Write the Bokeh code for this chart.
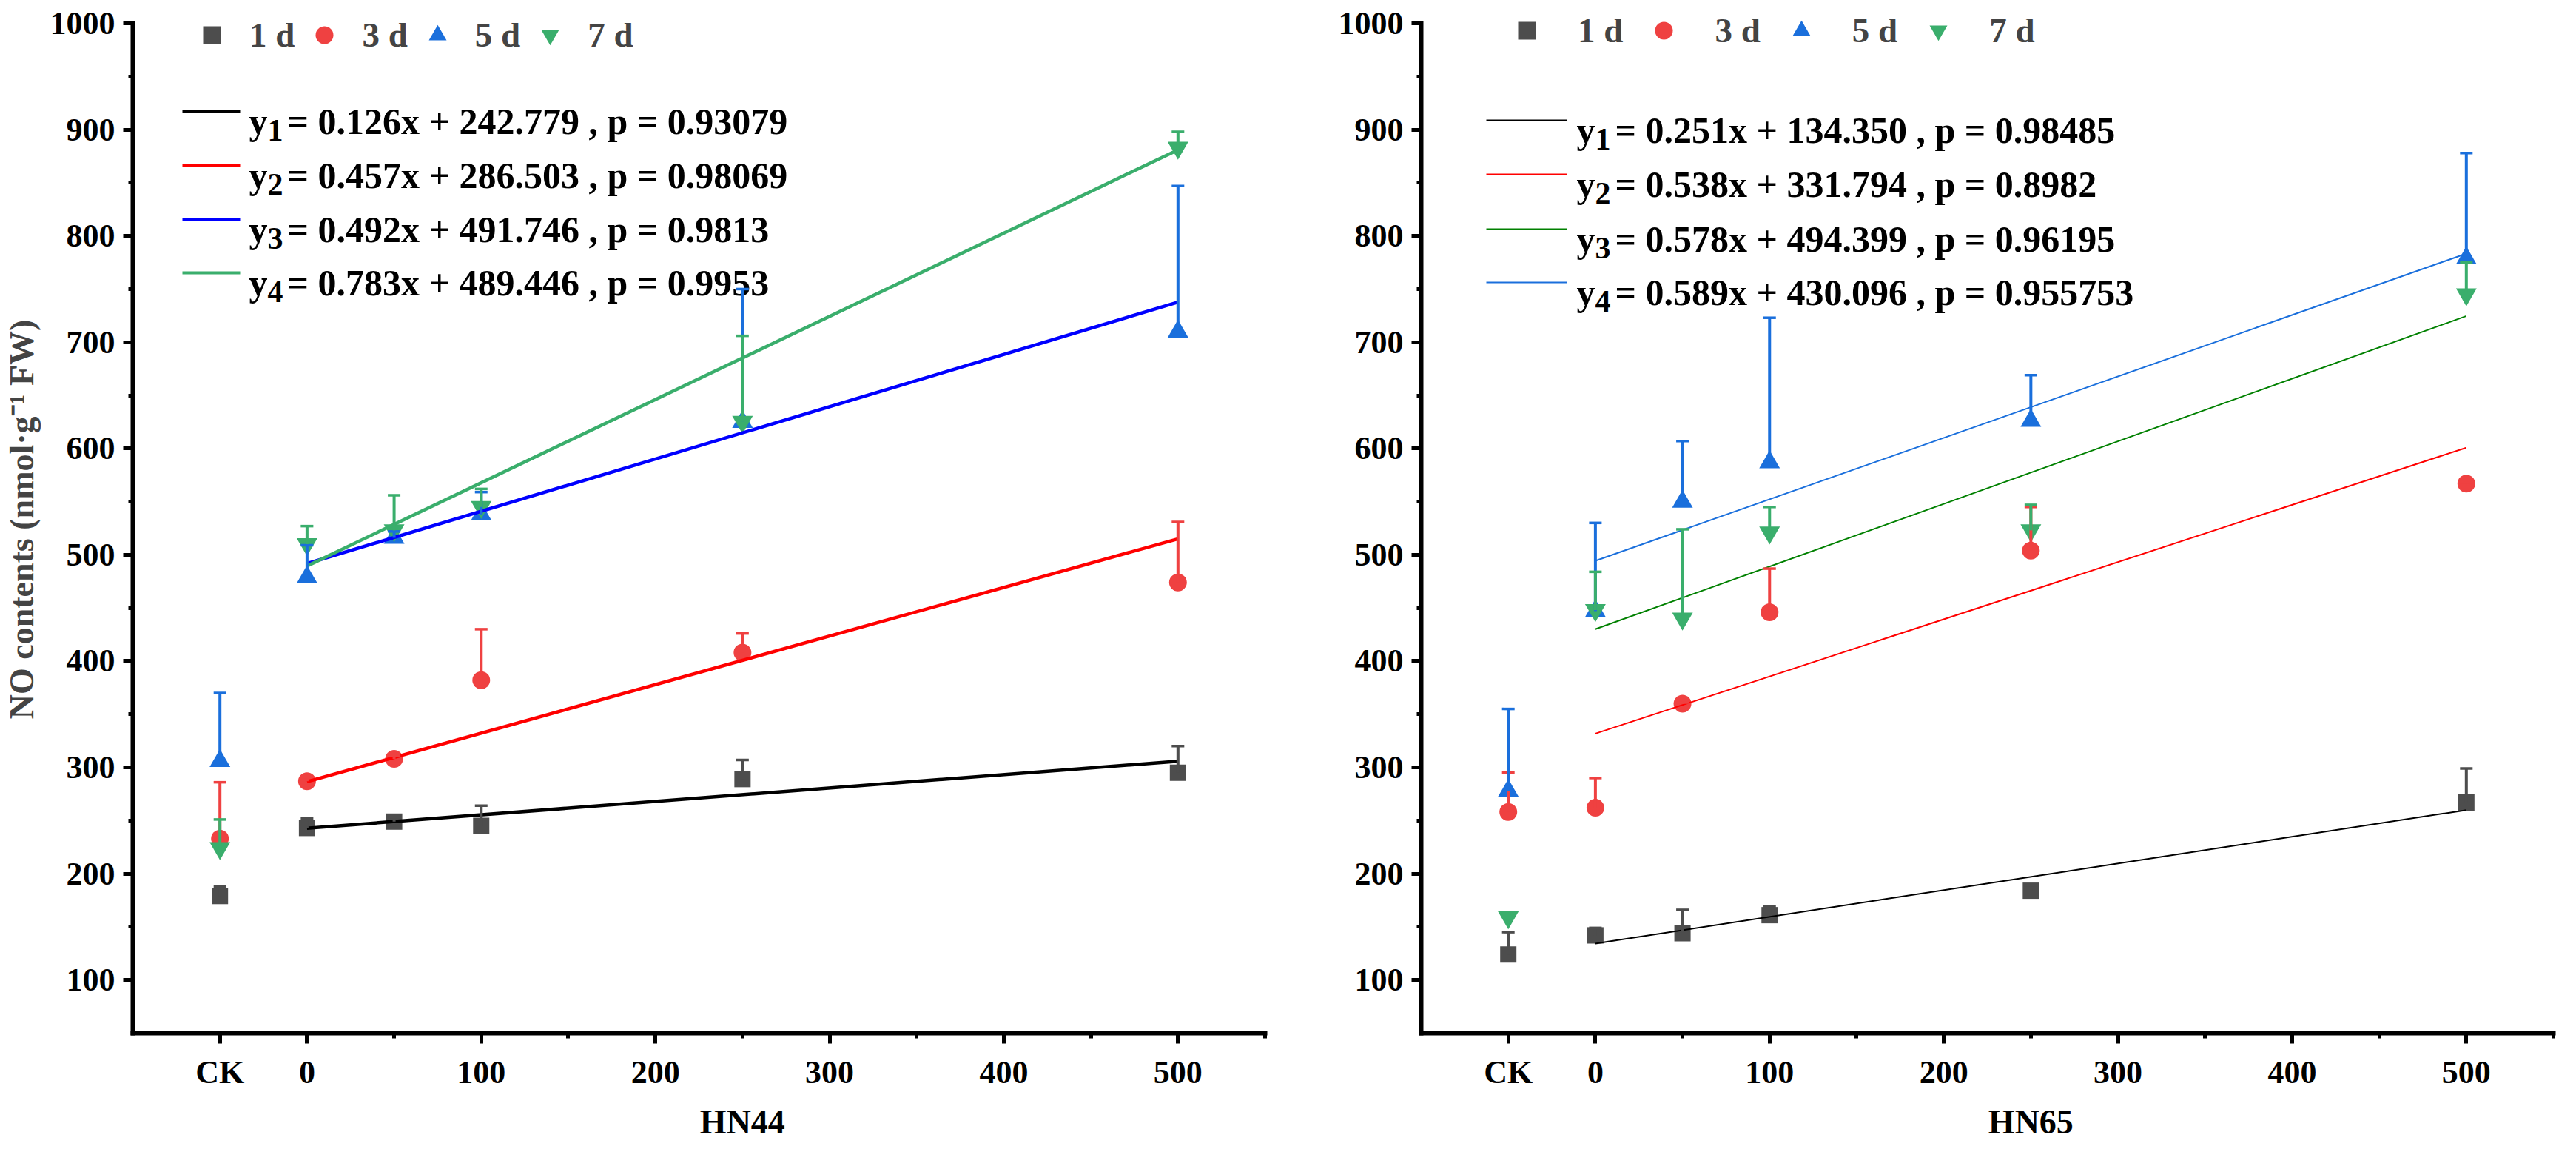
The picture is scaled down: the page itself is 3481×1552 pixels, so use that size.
from bokeh.embed import file_html
from bokeh.resources import INLINE
from bokeh.layouts import row
from bokeh.core.properties import value
from bokeh.models import (ColumnDataSource, FixedTicker, Legend, LegendItem,
                          Range1d, TeeHead, Title, Whisker)
from bokeh.plotting import figure

# x positions: CK control drawn at -50, then the HN doses
x_pos = [-50, 0, 50, 100, 250, 500]
ck_pos = -50
fit_x = [0, 500]
day_labels = ["1 d", "3 d", "5 d", "7 d"]

# HN44 panel (NO contents, nmol/g FW) and upper error bars
hn44_1d = [179, 243, 249, 245, 289, 295]
hn44_1d_err = [9, 9, 4, 19, 18, 25]
hn44_3d = [233, 287, 308, 382, 408, 474]
hn44_3d_err = [53, 4, 3, 48, 18, 57]
hn44_5d = [306, 479, 516, 538, 625, 710]
hn44_5d_err = [64, 30, 6, 21, 125, 137]
hn44_7d = [224, 510, 523, 545, 625, 883]
hn44_7d_err = [27, 17, 33, 17, 81, 15]
hn44_slopes = [0.126, 0.457, 0.492, 0.783]
hn44_intercepts = [242.779, 286.503, 491.746, 489.446]
hn44_p = ["0.93079", "0.98069", "0.9813", "0.9953"]

# HN65 panel
hn65_1d = [124, 142, 144, 161, 184, 267]
hn65_1d_err = [21, 7, 22, 8, 3, 32]
hn65_3d = [258, 262, 360, 446, 504, 567]
hn65_3d_err = [37, 28, 1, 41, 41, 1]
hn65_5d = [278, 447, 550, 587, 626, 779]
hn65_5d_err = [77, 83, 57, 136, 43, 99]
hn65_7d = [159, 448, 440, 521, 523, 745]
hn65_7d_err = [0, 36, 84, 24, 24, 30]
hn65_slopes = [0.251, 0.538, 0.578, 0.589]
hn65_intercepts = [134.350, 331.794, 494.399, 430.096]
hn65_p = ["0.98485", "0.8982", "0.96195", "0.955753"]

FONT = "Liberation Serif"
MARKERS = ["square", "circle", "triangle", "inverted_triangle"]
MARKER_SIZES = [22, 24, 28, 28]
MARKER_COLORS = ["#4d4d4d", "#ef4141", "#1a6fdc", "#3aae6c"]
X0, X1 = -100, 550
Y0, Y1 = 50, 1000
FRAME_W, AXIS_H = 1530, 1364     # pixel size of the drawn axes box
PAD = 24                         # extra frame room above the y axis for the legend
FRAME_H = AXIS_H + PAD
Y_TOP = Y1 + PAD * (Y1 - Y0) / AXIS_H


def make_panel(series, errors, slopes, intercepts, pvals, line_colors, legend_colors,
               line_w, legend_line_w, xlabel, ylabel, borders, leg_loc, leg_standoff,
               leg_spacing, eq_geom):
    bl, br = borders
    p = figure(frame_width=FRAME_W, frame_height=FRAME_H,
               x_range=Range1d(X0, X1), y_range=Range1d(Y0, Y_TOP),
               output_backend="svg", toolbar_location=None,
               min_border_left=bl, min_border_right=br,
               min_border_top=31 - PAD, min_border_bottom=140)
    p.outline_line_color = None
    p.grid.visible = False
    p.background_fill_color = "white"

    p.xaxis.ticker = FixedTicker(ticks=[ck_pos, 0, 100, 200, 300, 400, 500],
                                 minor_ticks=[50, 150, 250, 350, 450, 550])
    p.xaxis.major_label_overrides = {ck_pos: "CK"}
    p.yaxis.ticker = FixedTicker(ticks=list(range(100, 1001, 100)),
                                 minor_ticks=list(range(150, 1000, 100)))
    p.yaxis.bounds = (Y0, Y1)
    for ax in (p.xaxis, p.yaxis):
        ax.axis_line_width = 6
        ax.axis_line_cap = "square"
        ax.major_tick_line_width = 5
        ax.minor_tick_line_width = 5
        ax.major_tick_in = 0
        ax.minor_tick_in = 0
        ax.major_label_text_font = FONT
        ax.major_label_text_font_style = "bold"
        ax.major_label_text_font_size = "44px"
        ax.major_label_text_color = "black"
    p.xaxis.major_tick_out = 14
    p.xaxis.minor_tick_out = 7
    p.xaxis.major_label_standoff = 14
    p.yaxis.major_tick_out = 13
    p.yaxis.minor_tick_out = 6
    p.yaxis.major_label_standoff = 11
    if ylabel:
        p.yaxis.axis_label = ylabel
        p.yaxis.axis_label_text_font = FONT
        p.yaxis.axis_label_text_font_style = "bold"
        p.yaxis.axis_label_text_font_size = "46px"
        p.yaxis.axis_label_standoff = 10

    # x axis title centred under x = 250, as in the original
    label_w = 115
    offset = (250 - X0) / (X1 - X0) * FRAME_W - label_w / 2
    p.add_layout(Title(text=xlabel, align="left", offset=offset, vertical_align="top",
                       standoff=28, text_font=FONT, text_font_style="bold",
                       text_font_size="46px", text_color="black"), "below")

    marker_renderers = []
    for vals, mk, sz, col in zip(series, MARKERS, MARKER_SIZES, MARKER_COLORS):
        r = p.scatter(x_pos, vals, marker=mk, size=sz, fill_color=col, line_color=None)
        marker_renderers.append(r)

    for vals, errs, col in zip(series, errors, MARKER_COLORS):
        keep = [i for i, e in enumerate(errs) if e > 0]
        src = ColumnDataSource(data=dict(
            x=[x_pos[i] for i in keep],
            lower=[vals[i] for i in keep],
            upper=[vals[i] + errs[i] for i in keep]))
        w = Whisker(base="x", lower="lower", upper="upper", source=src,
                    dimension="height", line_color=col, line_width=4,
                    lower_head=None,
                    upper_head=TeeHead(size=17, line_color=col, line_width=3.5))
        w.level = "glyph"
        p.add_layout(w)

    for m, b, col in zip(slopes, intercepts, line_colors):
        p.line(fit_x, [m * x + b for x in fit_x], line_color=col, line_width=line_w)

    legend = Legend(items=[LegendItem(label=lab, renderers=[r])
                           for lab, r in zip(day_labels, marker_renderers)],
                    orientation="horizontal", location=leg_loc,
                    glyph_width=60, glyph_height=80, label_standoff=leg_standoff,
                    spacing=leg_spacing, padding=0, margin=0,
                    border_line_color=None, background_fill_alpha=0,
                    label_text_font=FONT, label_text_font_style="bold",
                    label_text_font_size="47px")
    p.add_layout(legend)

    # equation legend, drawn in pixels from the top-left of the axes box (y downwards)
    p.extra_x_ranges = {"leg": Range1d(0, FRAME_W)}
    p.extra_y_ranges = {"leg": Range1d(AXIS_H, -PAD)}
    lx0, lx1, tx, row_ys = eq_geom
    n = len(slopes)
    p.segment(x0=[lx0] * n, x1=[lx1] * n, y0=row_ys, y1=row_ys,
              line_color=legend_colors, line_width=legend_line_w,
              x_range_name="leg", y_range_name="leg")
    base_y = [y + 13 for y in row_ys]
    txt = dict(text_font=value(FONT), text_font_style="bold", text_color="black",
               text_align="left", text_baseline="alphabetic",
               x_range_name="leg", y_range_name="leg")
    p.text(x=[tx] * n, y=base_y, text=["y"] * n, text_font_size="50px", **txt)
    p.text(x=[tx + 25] * n, y=[y + 12 for y in base_y],
           text=[str(i + 1) for i in range(n)], text_font_size="42px", **txt)
    eq = [f"= {m:.3f}x + {b:.3f} , p = {pv}" for m, b, pv in zip(slopes, intercepts, pvals)]
    p.text(x=[tx + 52] * n, y=base_y, text=eq, text_font_size="50px", **txt)
    return p


p1 = make_panel([hn44_1d, hn44_3d, hn44_5d, hn44_7d],
                [hn44_1d_err, hn44_3d_err, hn44_5d_err, hn44_7d_err],
                hn44_slopes, hn44_intercepts, hn44_p,
                ["#000000", "#ff0000", "#0000ff", "#3aae6c"],
                ["#000000", "#ff0000", "#0000ff", "#3aae6c"],
                4.5, 4, "HN44", "NO contents (nmol·g⁻¹ FW)", (179, 30),
                (77, 1308), 21, 10, (67, 145, 157, [119, 192, 265, 337]))

p2 = make_panel([hn65_1d, hn65_3d, hn65_5d, hn65_7d],
                [hn65_1d_err, hn65_3d_err, hn65_5d_err, hn65_7d_err],
                hn65_slopes, hn65_intercepts, hn65_p,
                ["#000000", "#ff0000", "#1a6fdc", "#008000"],
                ["#000000", "#ff0000", "#008000", "#1a6fdc"],
                2, 2, "HN65", None, (181, 12),
                (113, 1314), 39, 25, (88, 197, 210, [131, 204, 278, 350]))

layout = row(p1, p2)
open("out.html", "w").write(file_html(layout, INLINE))
